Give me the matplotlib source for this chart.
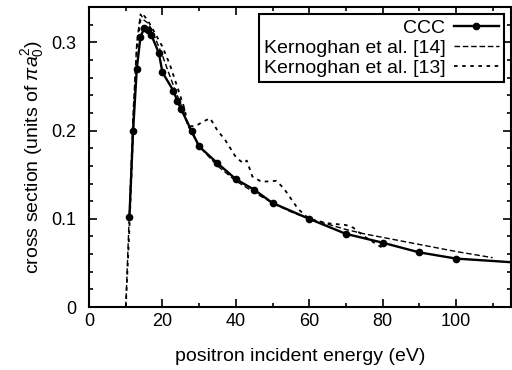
import matplotlib
matplotlib.use('Agg')
import matplotlib.pyplot as plt
from matplotlib.ticker import MultipleLocator

plt.rcParams['font.family'] = ['Liberation Sans', 'DejaVu Sans']
plt.rcParams['mathtext.fontset'] = 'custom'
plt.rcParams['mathtext.rm'] = 'Liberation Sans'
plt.rcParams['mathtext.it'] = 'Liberation Sans:italic'

# CCC
ccc_e = [11, 12, 13, 14, 15, 16, 17, 19, 20, 23, 24, 25, 28, 30, 35, 40, 45, 50, 60, 70, 80, 90, 100, 120]
ccc_s = [0.102, 0.200, 0.270, 0.306, 0.316, 0.314, 0.308, 0.288, 0.266, 0.245, 0.234, 0.225, 0.199, 0.182,
         0.163, 0.145, 0.133, 0.118, 0.100, 0.083, 0.073, 0.062, 0.055, 0.0495]

# Kernoghan et al. [14]
k14_e = [10, 11, 12, 13, 14, 15, 16, 17, 18, 19, 20, 22, 24, 25, 27, 30, 35, 40, 45, 50, 55, 60, 65, 70, 75, 80, 90, 100, 110]
k14_s = [0.0, 0.11, 0.22, 0.30, 0.332, 0.325, 0.322, 0.315, 0.305, 0.295, 0.285, 0.262, 0.24, 0.23, 0.205, 0.182,
         0.16, 0.143, 0.13, 0.118, 0.108, 0.1, 0.094, 0.088, 0.083, 0.079, 0.071, 0.063, 0.056]

# Kernoghan et al. [13]
k13_e = [10, 11, 12, 13, 14, 15, 16, 18, 20, 22, 24, 26, 27, 29, 31, 33, 35, 37, 40, 42, 43, 44.5, 47, 51, 53,
         57, 60, 65, 70, 72, 75, 80]
k13_s = [0.0, 0.09, 0.2, 0.29, 0.325, 0.33, 0.325, 0.31, 0.295, 0.275, 0.25, 0.225, 0.205, 0.205, 0.21, 0.214,
         0.2, 0.19, 0.17, 0.163, 0.166, 0.148, 0.142, 0.143, 0.135, 0.111, 0.1, 0.095, 0.093, 0.09, 0.08, 0.067]

yticks = [0, 0.1, 0.2, 0.3]
ylabels = ['0', '0.1', '0.2', '0.3']

fig = plt.figure(figsize=(5.12, 3.70), dpi=100)
ax = fig.add_axes([0.174, 0.170, 0.824, 0.811])

ax.plot(ccc_e, ccc_s, 'k-', lw=1.7, marker='o', ms=4.5, label='CCC')
ax.plot(k14_e, k14_s, 'k', ls=(0, (4, 2)), lw=1.0, label='Kernoghan et al. [14]')
ax.plot(k13_e, k13_s, 'k', ls=(0, (2, 2.5)), lw=1.3, label='Kernoghan et al. [13]')

ax.set_xlim(0, 115)
ax.set_ylim(0, 0.34)
ax.xaxis.set_major_locator(MultipleLocator(20))
ax.xaxis.set_minor_locator(MultipleLocator(10))
ax.set_yticks(yticks)
ax.set_yticklabels(ylabels)
ax.yaxis.set_minor_locator(MultipleLocator(0.02))
ax.tick_params(which='both', direction='in', top=True, right=True, labelsize=13, width=1.2)
ax.tick_params(which='major', length=6)
ax.tick_params(which='minor', length=3)
ax.tick_params(axis='y', pad=9)
ax.tick_params(axis='x', pad=4)
for s in ax.spines.values():
    s.set_linewidth(1.5)

ax.set_xlabel('positron incident energy (eV)', fontsize=14, labelpad=13)
ax.set_ylabel('cross section (units of $\\pi a_0^2$)', fontsize=14, labelpad=4)

leg = ax.legend(loc='upper right', markerfirst=False, fancybox=False, framealpha=1, edgecolor='k',
                fontsize=14, handlelength=2.3, handletextpad=0.45, labelspacing=0.12,
                borderpad=0.25, borderaxespad=0.38)
leg.get_frame().set_linewidth(1.5)

fig.savefig('out.png', dpi=100)
